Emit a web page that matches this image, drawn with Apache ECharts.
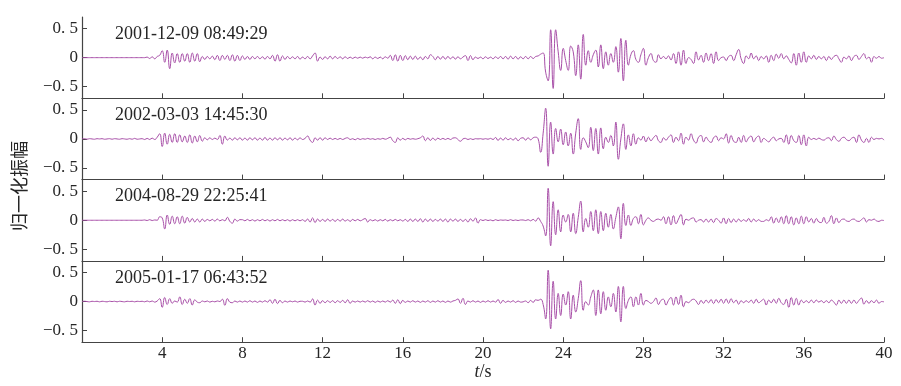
<!DOCTYPE html>
<html><head><meta charset="utf-8">
<script src="https://cdn.jsdelivr.net/npm/echarts@6/dist/echarts.min.js"></script>
<style>html,body{margin:0;padding:0;background:#fff}#c{width:901px;height:386px}</style>
</head><body><div id="c"></div>
<script>
// sampling step of the traces (s); one row = one second (8 samples)
const dt = 0.125;
const dates = ['2001-12-09 08:49:29', '2002-03-03 14:45:30', '2004-08-29 22:25:41', '2005-01-17 06:43:52'];
const xTicks = [4, 8, 12, 16, 20, 24, 28, 32, 36, 40];
const yTicks = [-0.5, 0, 0.5];

const wave1 = [
0,0,0,0,0,0,0,0,
0,0,0,0,0,0,0,0,
0,0,0,0,0,0,0,0,
0,0,0.01,-0.015,0.015,-0.02,0.02,0.04,
0.12,-0.08,0.13,-0.19,0.08,-0.09,0.07,-0.08,
0.07,-0.06,0.07,-0.08,0.08,-0.06,0.07,-0.07,
0.02,-0.03,0.02,-0.02,0.025,-0.035,0.04,-0.05,
0.04,-0.03,0.04,-0.05,0.05,-0.06,0.04,-0.05,
0.03,-0.03,0.02,-0.03,0.02,-0.02,0.02,-0.02,
0.015,-0.025,0.02,-0.02,0.04,-0.06,0.05,-0.06,
0.03,-0.03,0.02,-0.02,0.015,-0.02,0.02,-0.025,
0.01,-0.02,0.02,-0.02,0.03,0.08,-0.06,0.01,
-0.03,0.015,-0.02,0.025,-0.02,0.02,-0.015,0.015,
-0.02,0.015,-0.015,0.01,-0.015,0.01,-0.01,0.01,
-0.01,0.01,-0.005,0.015,-0.02,0.01,-0.015,0.01,
-0.02,0.015,-0.01,0.04,-0.05,0.05,-0.06,0.04,
-0.05,0.035,-0.035,0.025,-0.03,0.025,-0.03,0.01,
-0.035,0.02,-0.02,0.05,0.02,-0.035,0.02,-0.025,
0.02,-0.025,0.02,-0.02,0.015,-0.025,0.015,-0.02,
0.01,0.035,-0.05,0.035,-0.035,0.01,-0.015,0.01,
-0.02,0.015,-0.015,0.01,-0.02,0.015,-0.015,0.02,
-0.02,0.02,-0.025,0.025,-0.02,0.02,-0.025,0.015,
-0.02,0.02,-0.02,0.02,-0.015,0.02,0.03,0.06,
0.08,-0.25,-0.4,0.48,-0.53,0.48,0.1,-0.22,
0.16,-0.05,-0.22,0.2,0.1,-0.31,0.22,-0.37,
0.4,-0.13,0.12,-0.08,0.05,0.13,-0.16,0.22,
-0.19,0.1,-0.13,0.07,-0.08,0.19,-0.25,0.33,
-0.4,0.3,-0.13,0.05,0.12,-0.03,-0.08,0.05,
0.16,-0.13,0,0.07,-0.05,-0.08,0.05,-0.02,
0.02,-0.02,0.03,-0.04,0.07,-0.1,0.1,-0.13,
0.13,-0.1,0,-0.03,-0.1,0.1,-0.04,0.04,
-0.08,0.08,-0.05,0.07,-0.1,0.1,-0.05,0,
0.01,-0.05,0.02,0.04,-0.05,0.05,0.14,-0.02,
-0.1,0.03,-0.02,0.08,-0.02,0.03,-0.05,0.02,
-0.02,0.03,-0.08,0.04,-0.05,0.06,-0.01,0.07,
-0.02,0.03,-0.03,-0.09,0.07,-0.13,0.08,-0.08,
0.1,-0.08,0.03,-0.02,0.04,-0.03,0.02,-0.02,
0.02,-0.05,0.02,-0.03,0.02,0.04,-0.02,-0.08,
0.01,-0.02,0.03,-0.05,0.02,0.04,-0.03,0.02,
0.07,-0.02,0.01,-0.08,0.02,-0.01,0.02,-0.01,
0
];

const wave2 = [
0,0.005,-0.005,0.005,0,-0.005,0.005,0,
0.005,-0.005,0,0.005,-0.005,0.005,0,-0.005,
0.005,0,-0.005,0.005,-0.005,0.01,-0.005,0,
0.005,-0.01,0.01,-0.01,0.015,-0.01,0.03,0.09,
-0.13,0.1,-0.09,0.08,-0.06,0.09,-0.06,0.07,
-0.05,0.05,-0.06,0.07,-0.07,0.05,-0.05,0.06,
-0.04,0.02,-0.015,0.02,-0.01,0.015,-0.01,0.06,
-0.09,0.05,-0.02,0.015,-0.02,0.02,-0.015,0.02,
-0.02,0.015,-0.02,0.02,-0.015,0.02,-0.02,0.015,
-0.02,0.025,-0.02,0.015,-0.02,0.02,-0.015,0.02,
-0.02,0.015,-0.015,0.02,-0.02,0.015,-0.015,0.02,
-0.01,0.01,0.05,-0.02,-0.06,0.02,-0.02,0.02,
-0.02,0.02,-0.01,0.015,-0.01,0.01,-0.01,0.01,
-0.01,0.01,0.02,-0.01,0.005,-0.015,0.01,-0.01,
0.005,-0.005,0.01,-0.005,0.005,-0.01,0.005,-0.005,
0.01,-0.005,0.01,0.03,-0.03,-0.06,0.02,-0.02,
0.01,-0.015,0.01,-0.005,0.005,-0.005,0.005,0.02,
0.05,-0.03,0.02,-0.025,0.015,-0.02,0.015,-0.01,
0.01,-0.01,0.01,-0.01,0.015,0.02,-0.01,-0.04,
0,0.01,-0.01,0.005,-0.01,0.005,0,0.005,
-0.005,0.005,-0.005,0.01,-0.01,0.025,-0.025,0.015,
-0.02,0.02,-0.015,0.01,-0.02,0.015,-0.03,0.01,
0.02,-0.02,0.02,-0.015,0.02,0.03,0,-0.23,
0.1,0.53,-0.47,0.29,-0.26,0.18,-0.05,0.17,
-0.1,0.12,-0.12,0.1,-0.26,0.1,0.35,-0.18,
0.02,-0.05,-0.15,0.2,-0.2,0.18,-0.26,0.19,
-0.17,0.03,-0.06,0.06,-0.12,0.29,-0.35,0,
0.26,-0.18,0.07,-0.12,0.09,-0.09,0.02,-0.02,
0.05,-0.05,0.03,-0.03,0.02,0.06,-0.03,-0.06,
0.02,-0.02,0.03,0.07,-0.06,0.03,-0.03,0.1,
-0.09,0.03,-0.02,0.09,-0.02,-0.07,0.03,0.06,
-0.05,0.03,-0.03,-0.06,0.02,0.05,-0.03,0.02,
0,0.09,-0.07,0.06,-0.04,-0.06,0.03,-0.06,
0.06,-0.05,0.02,0.05,-0.05,0.02,0.05,-0.06,
0.01,-0.02,-0.05,0,0.03,-0.03,0,0.01,
-0.06,0.07,-0.09,0.06,-0.03,-0.06,0.06,-0.1,
0.07,-0.12,0.03,-0.01,0.01,-0.01,0.015,-0.01,
-0.02,0.01,0.02,-0.03,0.05,-0.01,-0.04,0.01,
0.03,-0.01,-0.03,0.01,0.03,-0.06,0.07,-0.02,
-0.06,0.01,-0.06,0.03,-0.01,0.01,0,0.01,
-0.02
];

const wave3 = [
0,0,0,0,0,0,0,0,
0,0,0,0,0,0,0,0,
0,0,0,0,0,0,0,0,
0,0.005,-0.005,0.01,-0.005,0.005,0,0.06,
0.04,-0.15,0.09,-0.07,0.07,-0.06,0.06,-0.06,
0.07,-0.05,0.05,-0.03,0.03,-0.03,0.02,-0.03,
0.02,-0.02,0.015,-0.01,0.015,-0.015,0.02,-0.01,
0.01,-0.01,0.05,-0.02,-0.05,0.02,-0.015,0.01,
0.01,-0.01,0.015,-0.01,0.01,-0.015,0.01,-0.01,
0.015,-0.01,0.01,-0.015,0.01,-0.01,0.015,-0.01,
0.01,-0.01,0.01,-0.015,0.01,-0.01,0.01,-0.01,
0.01,-0.02,0.02,-0.03,0.04,-0.04,0.02,-0.02,
0.015,-0.02,0.02,-0.015,0.015,-0.02,0.015,-0.015,
0.02,-0.015,0.01,-0.02,0.015,-0.01,0.015,-0.01,
0.01,0.03,-0.03,0.01,-0.01,0.01,-0.015,0.01,
-0.01,0.015,-0.015,0.01,-0.01,0.015,-0.01,0.01,
-0.015,0.015,-0.02,0.02,-0.02,0.02,-0.02,0.025,
-0.03,0.02,-0.02,0.02,-0.02,0.015,-0.015,0.02,
-0.02,0.02,-0.03,0.02,-0.015,0.02,-0.02,0.015,
-0.02,0.015,-0.03,0.025,-0.015,0.04,-0.05,0.01,
-0.005,0.01,-0.005,0.005,-0.01,0.01,-0.005,0.005,
0,0.005,-0.005,0.01,-0.005,0.005,-0.005,0.005,
0.005,-0.005,0.01,-0.01,0.015,-0.015,0.04,-0.02,
-0.1,-0.27,0.55,-0.44,0.32,-0.25,0.18,-0.2,
0.09,-0.03,0.1,-0.2,0.12,-0.23,0.05,0.33,
-0.2,0.03,-0.12,0.15,-0.18,0.18,-0.23,0.15,
-0.18,0.12,-0.12,0.1,-0.15,0.05,0.23,-0.32,
0.29,-0.09,0.09,-0.09,0.03,0.06,-0.06,0.1,
-0.08,0,0.04,0,-0.02,0.01,0.02,0,
0.06,-0.06,0.06,-0.08,0.08,-0.06,0.02,0.1,
-0.08,0.02,0,0.03,0.04,-0.03,0,0.01,
-0.03,0.02,-0.03,0.02,-0.04,0.03,0,-0.05,
0.04,-0.06,0.03,-0.04,0.02,-0.03,0.02,-0.02,
0.01,-0.02,0.03,-0.03,0.02,-0.02,0.01,-0.02,
-0.02,0.01,-0.01,0.06,-0.05,0.04,-0.04,0.06,
-0.06,0.08,-0.06,0.06,-0.08,0.04,-0.06,0.07,
-0.06,0.06,-0.03,0.03,-0.05,0.03,-0.03,-0.04,
0.05,-0.05,-0.02,0.08,-0.06,0.04,-0.04,0.01,
0.02,-0.01,-0.02,0.01,0.02,-0.01,-0.02,0.01,
0.04,-0.03,0.01,0,0.02,-0.01,-0.02,0,
-0.005
];

const wave4 = [
0,0.005,0,-0.005,0.005,0,0.005,-0.005,
0.005,0,-0.005,0.005,0,0.005,-0.005,0.005,
0,-0.005,0.005,0,0.005,-0.005,0.005,0,
0.005,-0.005,0.01,-0.005,0.01,-0.01,0.01,0.05,
-0.1,0.07,-0.05,0.05,-0.03,0.01,-0.01,0.08,
-0.05,0.04,-0.03,0.05,-0.06,0.03,-0.01,-0.02,
0.01,-0.005,0.01,-0.01,0.005,-0.005,0.01,0,
0.04,-0.065,0.05,-0.01,-0.02,0.01,-0.01,0.01,
-0.01,0.01,-0.01,0.015,-0.01,0.01,-0.015,0.01,
-0.01,0.015,-0.01,0.03,-0.03,0.04,-0.035,0.02,
-0.02,0.01,-0.01,0.01,-0.005,0.01,-0.01,0.005,
0.005,-0.01,0.01,-0.01,0.045,-0.06,0.025,-0.03,
0.015,-0.02,0.015,-0.015,0.015,-0.02,0.015,-0.015,
0.02,-0.02,0.03,-0.03,0.01,-0.01,0.01,-0.01,
0.01,-0.01,0.015,-0.01,0.01,-0.015,0.01,-0.01,
0.01,-0.01,0.015,-0.01,0.025,-0.03,0.03,-0.035,
0.02,-0.015,0.01,-0.01,0.015,-0.01,0.01,-0.015,
0.01,-0.01,0.015,-0.015,0.01,-0.01,0.015,-0.01,
0.01,-0.015,0.01,-0.01,0.01,0.02,0.045,-0.03,
0.055,-0.05,0.01,-0.01,0.015,-0.01,0.01,-0.015,
0.01,-0.01,0.015,-0.01,0.01,-0.01,0.035,-0.03,
0.02,-0.015,0.01,-0.01,0.015,-0.015,0.01,-0.01,
-0.005,0.01,-0.02,0.02,-0.015,0.03,0.02,0.04,
-0.05,-0.3,0.54,-0.47,0.35,-0.3,0.14,-0.24,
0.13,-0.06,0.17,-0.3,0.11,-0.18,0.05,0.36,
-0.15,0,-0.06,0.08,0.2,-0.24,0.2,-0.21,
0.17,-0.15,0.08,-0.09,0.14,-0.18,0.26,-0.35,
0.26,-0.12,0.02,0.08,-0.09,0.08,-0.06,0.14,
-0.06,0.02,0,-0.03,0,0.06,-0.05,0.02,
0.04,-0.06,0.02,0.07,-0.06,0.08,-0.05,0.11,
-0.09,0,-0.02,0.02,0.04,0.01,-0.05,0.02,
-0.03,0.025,-0.02,0.035,-0.035,0.035,-0.02,0.04,
-0.03,0.045,-0.03,0.05,-0.02,0.025,-0.045,0.015,
-0.02,0.015,-0.015,0.025,-0.03,0.04,-0.02,0.01,
0.04,-0.06,0.025,-0.02,0.04,-0.03,0.055,-0.02,
-0.05,0.04,-0.1,0.07,-0.06,0.055,-0.06,0.025,
-0.02,0.015,-0.02,0.025,-0.02,0.025,-0.01,0.015,
-0.02,0.015,-0.02,0.025,-0.01,-0.06,0.025,-0.03,
0.025,-0.03,0.025,-0.03,0.025,-0.03,0.02,0.06,
-0.045,0.015,-0.03,0.015,-0.02,0.025,-0.03,0,
-0.005
];

const waves = [wave1, wave2, wave3, wave4];

const AX = '#444';
const TXT = '#262626';
const SERIF = '"Liberation Serif", "Times New Roman", serif';
const panelTop = 17, panelH = 81.3, gridLeft = 82, gridRight = 17;

const grid = [], xAxis = [], yAxis = [], series = [], graphic = [];
waves.forEach((w, i) => {
  const top = panelTop + i * panelH;
  grid.push({ left: gridLeft, right: gridRight, top: top, height: panelH });
  xAxis.push({
    type: 'value', gridIndex: i, min: 0, max: 40, interval: 4, position: 'bottom',
    axisLine: { show: true, onZero: false, lineStyle: { color: AX, width: 1.2 } },
    axisTick: { show: true, inside: true, length: 5, customValues: xTicks, lineStyle: { color: AX, width: 1 } },
    axisLabel: { show: i === 3, customValues: xTicks, margin: 3, color: TXT, fontFamily: SERIF, fontSize: 17 },
    splitLine: { show: false }
  });
  yAxis.push({
    type: 'value', gridIndex: i, min: -0.7, max: 0.7, position: 'left',
    axisLine: { show: true, onZero: false, lineStyle: { color: AX, width: 1.2 } },
    axisTick: { show: true, inside: true, length: 5, customValues: yTicks, lineStyle: { color: AX, width: 1 } },
    axisLabel: {
      customValues: yTicks, margin: 4, color: TXT, fontFamily: SERIF, fontSize: 17,
      formatter: v => v === 0 ? '0' : (v < 0 ? '\u2212' : '') + String(Math.abs(v)).replace('.', '. ')
    },
    splitLine: { show: false }
  });
  series.push({
    type: 'line', xAxisIndex: i, yAxisIndex: i, showSymbol: false, smooth: 0.5,
    lineStyle: { color: '#a84fa8', width: 1 },
    data: w.map((v, k) => [k * dt, v])
  });
  graphic.push({
    type: 'text', left: 115, top: top + 8,
    style: { text: dates[i], fill: TXT, font: '18px ' + SERIF }
  });
});

graphic.push({
  type: 'text', x: 19, y: 186, rotation: Math.PI / 2,
  style: { text: '归一化振幅', fill: TXT, font: '18px "Noto Sans CJK SC"', align: 'center', verticalAlign: 'middle' }
});
graphic.push({
  type: 'text', x: 483, y: 372,
  style: {
    text: '{i|t}/s', align: 'center', verticalAlign: 'middle', fill: TXT, font: '18px ' + SERIF,
    rich: { i: { fontStyle: 'italic', fontFamily: SERIF, fontSize: 18, fill: TXT } }
  }
});

const chart = echarts.init(document.getElementById('c'), null, { renderer: 'canvas' });
chart.setOption({
  animation: false,
  backgroundColor: '#fff',
  grid, xAxis, yAxis, series, graphic
});
</script>
</body></html>
